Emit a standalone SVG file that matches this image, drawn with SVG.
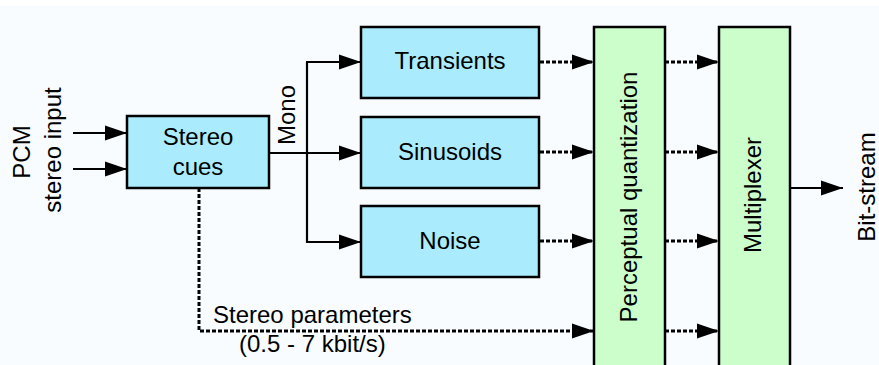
<svg xmlns="http://www.w3.org/2000/svg" width="879" height="365" viewBox="0 0 879 365">
  <style>
    .blk { stroke: #000; stroke-width: 2.5; }
    .blue { fill: #aaecfd; }
    .green { fill: #ccfecb; }
    .lbl { font-family: "Liberation Sans", Arial, sans-serif; font-size: 24px; fill: #000; }
    .solid { fill: none; stroke: #000; stroke-width: 2.2; }
    .dot { fill: none; stroke: #000; stroke-width: 3; stroke-dasharray: 4 2; }
  </style>
  <defs>
    <marker id="head" markerUnits="userSpaceOnUse" markerWidth="23" markerHeight="17" refX="22" refY="8.5" orient="auto" overflow="visible">
      <path d="M0,1 L22,8.5 L0,16 Z" fill="#000"/>
    </marker>
  </defs>

  <rect x="0" y="0" width="879" height="365" fill="#ffffff"/>
  <rect x="0" y="6" width="879" height="359" fill="#f8fcff"/>

  <!-- input labels -->
  <text class="lbl" transform="translate(30,152) rotate(-90)" text-anchor="middle">PCM</text>
  <text class="lbl" transform="translate(61,150) rotate(-90)" text-anchor="middle">stereo input</text>

  <g id="connectors">
    <line class="solid" x1="73" y1="133" x2="127" y2="133" marker-end="url(#head)"/>
    <line class="solid" x1="73" y1="169" x2="127" y2="169" marker-end="url(#head)"/>
    <!-- mono split into three branches -->
    <line class="solid" x1="269" y1="153" x2="361" y2="153" marker-end="url(#head)"/>
    <polyline class="solid" points="307,62 307,242 361,242" marker-end="url(#head)"/>
    <line class="solid" x1="306" y1="62" x2="361" y2="62" marker-end="url(#head)"/>
    <!-- to quantization -->
    <line class="dot" x1="540" y1="62" x2="594" y2="62" marker-end="url(#head)"/>
    <line class="dot" x1="540" y1="152" x2="594" y2="152" marker-end="url(#head)"/>
    <line class="dot" x1="540" y1="241" x2="594" y2="241" marker-end="url(#head)"/>
    <polyline class="dot" points="199,188 199,331 594,331" marker-end="url(#head)"/>
    <!-- to multiplexer -->
    <line class="dot" x1="665" y1="62" x2="719" y2="62" marker-end="url(#head)"/>
    <line class="dot" x1="665" y1="152" x2="719" y2="152" marker-end="url(#head)"/>
    <line class="dot" x1="665" y1="241" x2="719" y2="241" marker-end="url(#head)"/>
    <line class="dot" x1="665" y1="331" x2="719" y2="331" marker-end="url(#head)"/>
    <!-- output -->
    <line class="solid" x1="790" y1="188" x2="843" y2="188" marker-end="url(#head)"/>
  </g>

  <text class="lbl" transform="translate(295,115) rotate(-90)" text-anchor="middle">Mono</text>
  <text class="lbl" x="213" y="323">Stereo parameters</text>
  <text class="lbl" x="239" y="352">(0.5 - 7 kbit/s)</text>
  <text class="lbl" transform="translate(875,187) rotate(-90)" text-anchor="middle">Bit-stream</text>

  <g id="stereo-cues">
    <rect class="blk blue" x="127" y="116" width="142" height="72"/>
    <text class="lbl" x="198" y="145" text-anchor="middle">Stereo</text>
    <text class="lbl" x="198" y="175" text-anchor="middle">cues</text>
  </g>
  <g id="transients">
    <rect class="blk blue" x="361" y="27" width="178" height="71"/>
    <text class="lbl" x="450" y="69" text-anchor="middle">Transients</text>
  </g>
  <g id="sinusoids">
    <rect class="blk blue" x="361" y="117" width="178" height="71"/>
    <text class="lbl" x="450" y="160" text-anchor="middle">Sinusoids</text>
  </g>
  <g id="noise">
    <rect class="blk blue" x="361" y="206" width="178" height="71"/>
    <text class="lbl" x="450" y="249" text-anchor="middle">Noise</text>
  </g>
  <g id="perceptual-quantization">
    <rect class="blk green" x="594" y="27" width="71" height="345"/>
    <text class="lbl" transform="translate(637,197) rotate(-90)" text-anchor="middle">Perceptual quantization</text>
  </g>
  <g id="multiplexer">
    <rect class="blk green" x="719" y="27" width="71" height="345"/>
    <text class="lbl" transform="translate(761,195) rotate(-90)" text-anchor="middle">Multiplexer</text>
  </g>
</svg>
